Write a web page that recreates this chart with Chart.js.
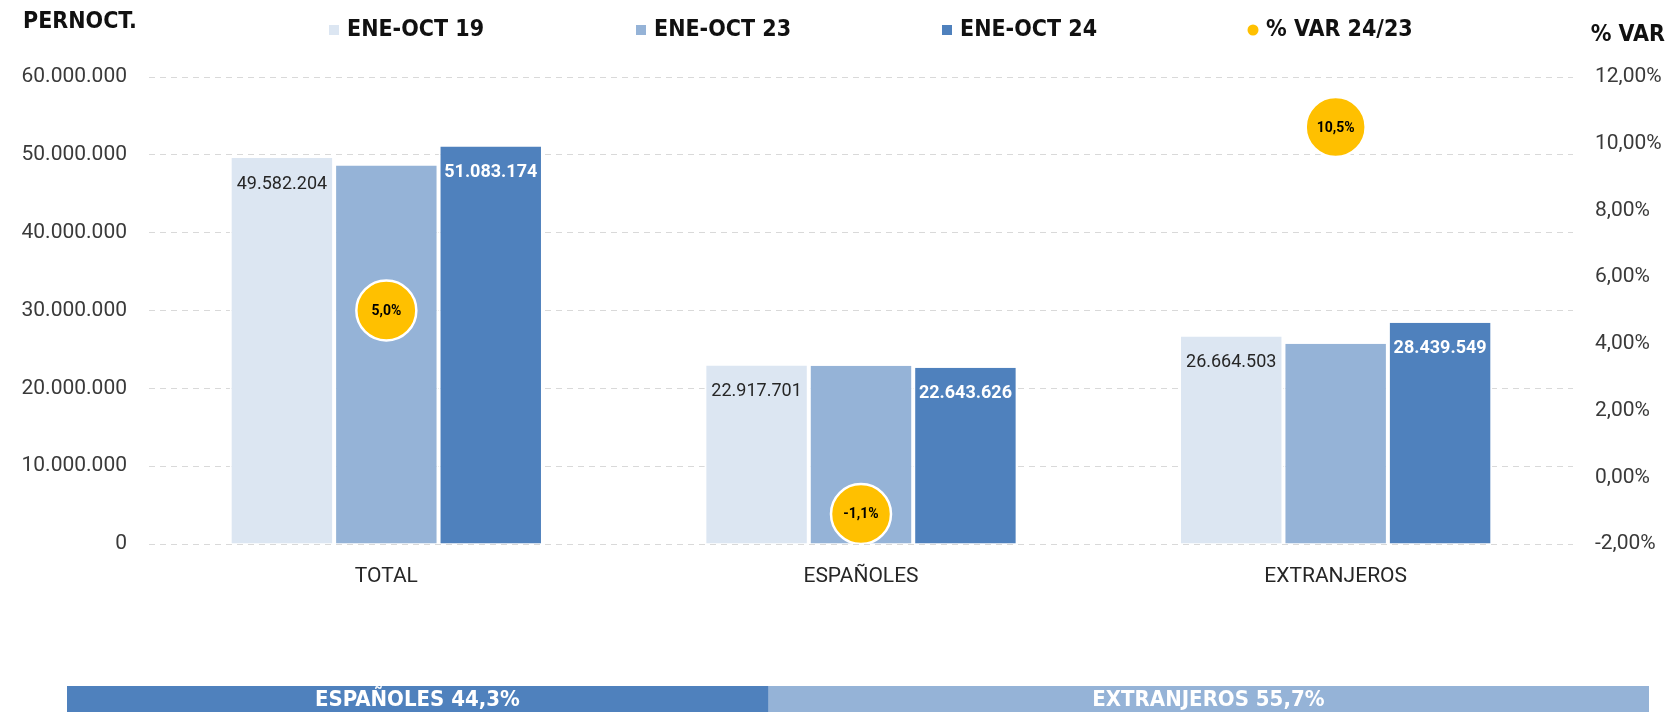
<!DOCTYPE html>
<html lang="es">
<head>
    <meta charset="UTF-8">
    <title>pernoctaciones</title>
    <script src="https://cdn.jsdelivr.net/npm/chart.js@4.4.0/dist/chart.umd.min.js"></script>
    <style>
        html,body{margin:0; padding:0; background:#fff; width:1672px; height:712px; overflow:hidden;}
        #main{position:absolute; left:0; top:0;}
        #strip{position:absolute; left:67px; top:686px;}
    </style>
</head>
<body>
    <canvas id="main" width="1672" height="640"></canvas>
    <canvas id="strip" width="1582" height="26"></canvas>

<script>
// datos
const categories = ['TOTAL', 'ESPAÑOLES', 'EXTRANJEROS'];
const seriesNames = ['ENE-OCT 19', 'ENE-OCT 23', 'ENE-OCT 24', '% VAR 24/23'];
const pernoct19 = [49582204, 22917701, 26664503];
const pernoct23 = [48640000, 22890000, 25740000];
const pernoct24 = [51083174, 22643626, 28439549];
const var2423 = [5.0, -1.1, 10.5];
const leftTicks = [0, 10000000, 20000000, 30000000, 40000000, 50000000, 60000000];
const rightTicks = [-2, 0, 2, 4, 6, 8, 10, 12];
const shareNames = ['ESPAÑOLES', 'EXTRANJEROS'];
const shareValues = [44.3, 55.7];

const c19 = '#DCE6F2', c23 = '#95B3D7', c24 = '#4F81BD', cVar = '#FFC000';
const narrow = "'Liberation Sans Narrow', 'DejaVu Sans Condensed', sans-serif";
const txt = "Roboto, 'Noto Sans', sans-serif";

function miles(n){
    return String(Math.round(n)).replace(/\B(?=(\d{3})+(?!\d))/g, '.');
}

// etiquetas, titulos de ejes y leyenda
const extras = {
    id:'extras',
    afterDraw(chart){
        const ctx = chart.ctx;
        ctx.save();
        ctx.textBaseline = 'middle';

        // titulos de ejes
        ctx.fillStyle = '#111';
        ctx.font = 'bold 23px ' + narrow;
        ctx.textAlign = 'left';
        ctx.fillText('PERNOCT.', 23, 22);
        ctx.textAlign = 'right';
        ctx.fillText('% VAR', 1665, 35);

        // leyenda
        const legX = [334, 641, 947, 1253];
        const legC = [c19, c23, c24, cVar];
        ctx.font = 'bold 23px ' + narrow;
        legX.forEach(function(x, i){
            ctx.fillStyle = legC[i];
            if(i < 3){
                ctx.fillRect(x - 5, 25, 10, 10);
            } else {
                ctx.beginPath();
                ctx.arc(x, 30, 5.5, 0, Math.PI * 2);
                ctx.fill();
            }
            ctx.fillStyle = '#111';
            ctx.textAlign = 'left';
            ctx.fillText(seriesNames[i], x + 13, 30);
        });

        // valores de barras
        [0, 2].forEach(function(di){
            const meta = chart.getDatasetMeta(di);
            const ds = chart.data.datasets[di];
            meta.data.forEach(function(el, i){
                ctx.textAlign = 'center';
                if(di === 0){
                    ctx.font = '18px ' + txt;
                    ctx.fillStyle = '#262626';
                } else {
                    ctx.font = 'bold 18px ' + txt;
                    ctx.fillStyle = '#fff';
                }
                ctx.fillText(miles(ds.data[i]), el.x, el.y + 26);
            });
        });

        // valores de variacion
        const lm = chart.getDatasetMeta(3);
        lm.data.forEach(function(el, i){
            ctx.font = 'bold 14px ' + txt;
            ctx.fillStyle = '#000';
            ctx.textAlign = 'center';
            ctx.fillText(var2423[i].toFixed(1).replace('.', ',') + '%', el.x, el.y + 1);
        });
        ctx.restore();
    }
};

const barBorder = {top:0, bottom:0, left:2, right:2};

new Chart(document.getElementById('main').getContext('2d'), {
    type:'bar',
    data:{
        labels:categories,
        datasets:[
            {label:seriesNames[0], data:pernoct19, backgroundColor:c19, borderColor:'#fff', borderWidth:barBorder, borderSkipped:false, yAxisID:'y', order:1},
            {label:seriesNames[1], data:pernoct23, backgroundColor:c23, borderColor:'#fff', borderWidth:barBorder, borderSkipped:false, yAxisID:'y', order:1},
            {label:seriesNames[2], data:pernoct24, backgroundColor:c24, borderColor:'#fff', borderWidth:barBorder, borderSkipped:false, yAxisID:'y', order:1},
            {
                type:'line', label:seriesNames[3], data:var2423, yAxisID:'y1', order:0,
                showLine:false, pointRadius:30, pointHoverRadius:30,
                pointBackgroundColor:cVar, pointBorderColor:'#fff', pointBorderWidth:2.5
            }
        ]
    },
    options:{
        responsive:false,
        animation:false,
        categoryPercentage:0.66,
        barPercentage:1,
        layout:{padding:{top:77, bottom:0, left:0, right:0}},
        plugins:{legend:{display:false}, tooltip:{enabled:false}},
        scales:{
            x:{
                grid:{display:false, drawTicks:false},
                border:{display:false},
                ticks:{font:{family:txt, size:21}, color:'#262626', padding:20},
                afterFit:function(s){ s.height = 96; }
            },
            y:{
                position:'left',
                min:0, max:60000000,
                afterBuildTicks:function(s){ s.ticks = leftTicks.map(v => ({value:v})); },
                grid:{color:'#d9d9d9', lineWidth:1, drawTicks:false},
                border:{display:false, dash:[6,5]},
                ticks:{font:{family:txt, size:21}, color:'#3a3a3a', padding:22, callback:v => miles(v)},
                afterFit:function(s){ s.width = 149; }
            },
            y1:{
                position:'right',
                min:-2, max:12,
                afterBuildTicks:function(s){ s.ticks = rightTicks.map(v => ({value:v})); },
                grid:{drawOnChartArea:false, drawTicks:false},
                border:{display:false},
                ticks:{font:{family:txt, size:21}, color:'#3a3a3a', padding:22, callback:v => v.toFixed(2).replace('.', ',') + '%'},
                afterFit:function(s){ s.width = 99; }
            }
        }
    },
    plugins:[extras]
});

// franja de reparto inferior
const stripLabels = {
    id:'stripLabels',
    afterDraw(chart){
        const ctx = chart.ctx;
        ctx.save();
        ctx.font = 'bold 22px ' + narrow;
        ctx.fillStyle = '#fff';
        ctx.textAlign = 'center';
        ctx.textBaseline = 'middle';
        chart.data.datasets.forEach(function(ds, i){
            const el = chart.getDatasetMeta(i).data[0];
            const cx = (el.x + el.base) / 2;
            ctx.fillText(ds.label + ' ' + ds.data[0].toFixed(1).replace('.', ',') + '%', cx, el.y + 1);
        });
        ctx.restore();
    }
};

new Chart(document.getElementById('strip').getContext('2d'), {
    type:'bar',
    data:{
        labels:[''],
        datasets:[
            {label:shareNames[0], data:[shareValues[0]], backgroundColor:c24},
            {label:shareNames[1], data:[shareValues[1]], backgroundColor:c23}
        ]
    },
    options:{
        indexAxis:'y',
        responsive:false,
        animation:false,
        categoryPercentage:1,
        barPercentage:1,
        layout:{padding:0},
        plugins:{legend:{display:false}, tooltip:{enabled:false}},
        scales:{
            x:{stacked:true, min:0, max:100, display:false},
            y:{stacked:true, display:false}
        }
    },
    plugins:[stripLabels]
});
</script>
</body>
</html>
